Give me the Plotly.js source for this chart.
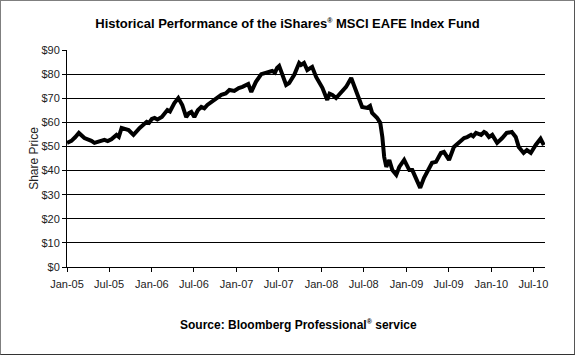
<!DOCTYPE html>
<html>
<head>
<meta charset="utf-8">
<script src="https://cdn.plot.ly/plotly-3.0.1.min.js"></script>
<style>
html,body{margin:0;padding:0;background:#fff;}
#wrap{width:575px;height:355px;box-sizing:border-box;border:1px solid #7f7f7f;border-right-color:#555;border-bottom-color:#333;overflow:hidden;}
#chart{width:573px;height:353px;}
</style>
</head>
<body>
<div id="wrap"><div id="chart"></div></div>
<script>
const dates = [
"2005-01-01","2005-01-20","2005-02-05","2005-02-21","2005-03-17","2005-04-05","2005-04-16","2005-04-29","2005-05-20","2005-06-11",
"2005-06-25","2005-07-11","2005-08-02","2005-08-12","2005-08-24","2005-09-23","2005-10-14","2005-10-28","2005-11-10","2005-12-10",
"2005-12-20","2006-01-01","2006-01-13","2006-01-25","2006-02-13","2006-03-09","2006-03-20","2006-04-08","2006-04-25","2006-05-12",
"2006-05-29","2006-06-10","2006-06-20","2006-07-03","2006-07-18","2006-08-02","2006-08-15","2006-08-28","2006-09-27","2006-10-10",
"2006-10-27","2006-11-15","2006-12-01","2006-12-22","2007-01-10","2007-01-26","2007-02-20","2007-03-05","2007-03-25","2007-04-17",
"2007-05-12","2007-06-03","2007-06-15","2007-06-24","2007-07-03","2007-07-15","2007-08-02","2007-08-15","2007-09-06","2007-09-27",
"2007-10-05","2007-10-18","2007-11-01","2007-11-22","2007-12-09","2008-01-05","2008-01-26","2008-02-05","2008-02-17","2008-03-04",
"2008-03-25","2008-04-05","2008-04-16","2008-05-08","2008-05-20","2008-06-11","2008-06-24","2008-07-15","2008-07-28","2008-08-06",
"2008-08-28","2008-09-10","2008-09-19","2008-09-27","2008-10-06","2008-10-19","2008-11-01","2008-11-18","2008-12-01","2008-12-22",
"2009-01-13","2009-01-26","2009-02-13","2009-03-01","2009-03-17","2009-03-30","2009-04-21","2009-05-08","2009-05-29","2009-06-11",
"2009-07-03","2009-07-24","2009-08-15","2009-08-25","2009-09-06","2009-09-19","2009-10-06","2009-10-15","2009-10-27","2009-11-18",
"2009-12-01","2009-12-09","2009-12-22","2010-01-05","2010-01-26","2010-02-17","2010-03-08","2010-03-30","2010-04-16","2010-04-29",
"2010-05-20","2010-06-03","2010-06-20","2010-07-11","2010-07-24","2010-08-01","2010-08-15"
];
const prices = [
51.5,52.3,53.8,55.6,53.5,53.0,52.3,51.5,52.0,52.7,
52.2,53.0,54.8,54.0,57.7,56.8,54.8,56.5,57.7,60.2,
59.8,61.4,61.8,61.2,62.2,65.1,64.5,68.0,70.1,67.2,
62.2,63.8,64.3,62.2,65.0,66.4,65.8,67.2,69.3,70.0,
71.4,72.0,73.4,73.0,74.2,74.7,75.9,72.6,76.8,80.0,
80.5,81.3,80.6,82.6,83.4,80.5,75.5,76.3,79.7,84.6,
83.8,84.6,81.7,83.0,78.8,74.3,69.3,71.9,71.4,70.1,
72.6,73.6,74.7,78.4,75.5,70.5,66.4,66.0,66.8,63.9,
61.8,59.8,53.9,45.6,41.5,44.4,40.2,38.2,41.5,44.4,
40.2,40.2,36.1,32.8,36.9,39.4,43.2,43.6,47.3,47.7,
44.4,49.8,51.9,52.8,53.5,53.9,54.8,54.2,55.6,54.8,
56.0,55.6,53.9,54.8,51.5,53.5,55.6,56.0,53.9,49.8,
47.3,48.5,47.3,50.6,52.7,53.2,50.6
];
const tickVals = ["2005-01-01","2005-07-01","2006-01-01","2006-07-01","2007-01-01","2007-07-01","2008-01-01","2008-07-01","2009-01-01","2009-07-01","2010-01-01","2010-07-01"];
const tickText = ["Jan-05","Jul-05","Jan-06","Jul-06","Jan-07","Jul-07","Jan-08","Jul-08","Jan-09","Jul-09","Jan-10","Jul-10"];
const yTicks = [0,10,20,30,40,50,60,70,80,90];
const yText = yTicks.map(v => "$" + v);

const trace = {
  x: dates, y: prices, type: "scatter", mode: "lines",
  line: {color: "#000", width: 4}, hoverinfo: "skip"
};
const reg = '<sup><span style="font-size:7px">®</span></sup>';
const layout = {
  width: 573, height: 353,
  margin: {l: 66, r: 29, t: 49, b: 87},
  paper_bgcolor: "#fff", plot_bgcolor: "#fff",
  showlegend: false,
  font: {family: "Liberation Sans, Arial, sans-serif", size: 11, color: "#222"},
  title: {
    text: "Historical Performance of the iShares" + reg + " MSCI EAFE Index Fund",
    font: {family: "Liberation Sans, Arial, sans-serif", size: 13, color: "#000", weight: "bold"},
    x: 0.5, xanchor: "center", y: 0.935, yanchor: "middle"
  },
  xaxis: {
    type: "date", range: ["2005-01-01", "2010-08-20"],
    tickvals: tickVals, ticktext: tickText,
    ticks: "outside", ticklen: 4, tickcolor: "#000",
    ticklabelstandoff: 3,
    showline: true, linecolor: "#000", linewidth: 1,
    showgrid: false, zeroline: false,
    tickfont: {size: 11, color: "#222"}
  },
  yaxis: {
    range: [0, 90], tickvals: yTicks, ticktext: yText,
    ticks: "outside", ticklen: 4, tickcolor: "#000",
    showline: true, linecolor: "#000", linewidth: 1,
    showgrid: true, gridcolor: "#000", gridwidth: 1,
    zeroline: false,
    tickfont: {size: 11, color: "#222"},
    title: {text: "Share Price", font: {size: 12, color: "#222"}, standoff: 0}
  },
  annotations: [{
    text: "<b>Source: Bloomberg Professional" + reg + " service</b>",
    xref: "paper", yref: "paper", x: 0.485, y: -0.265, xanchor: "center", yanchor: "middle",
    showarrow: false, font: {size: 12, color: "#000"}
  }]
};
Plotly.newPlot("chart", [trace], layout, {staticPlot: true, displayModeBar: false});
</script>
</body>
</html>
